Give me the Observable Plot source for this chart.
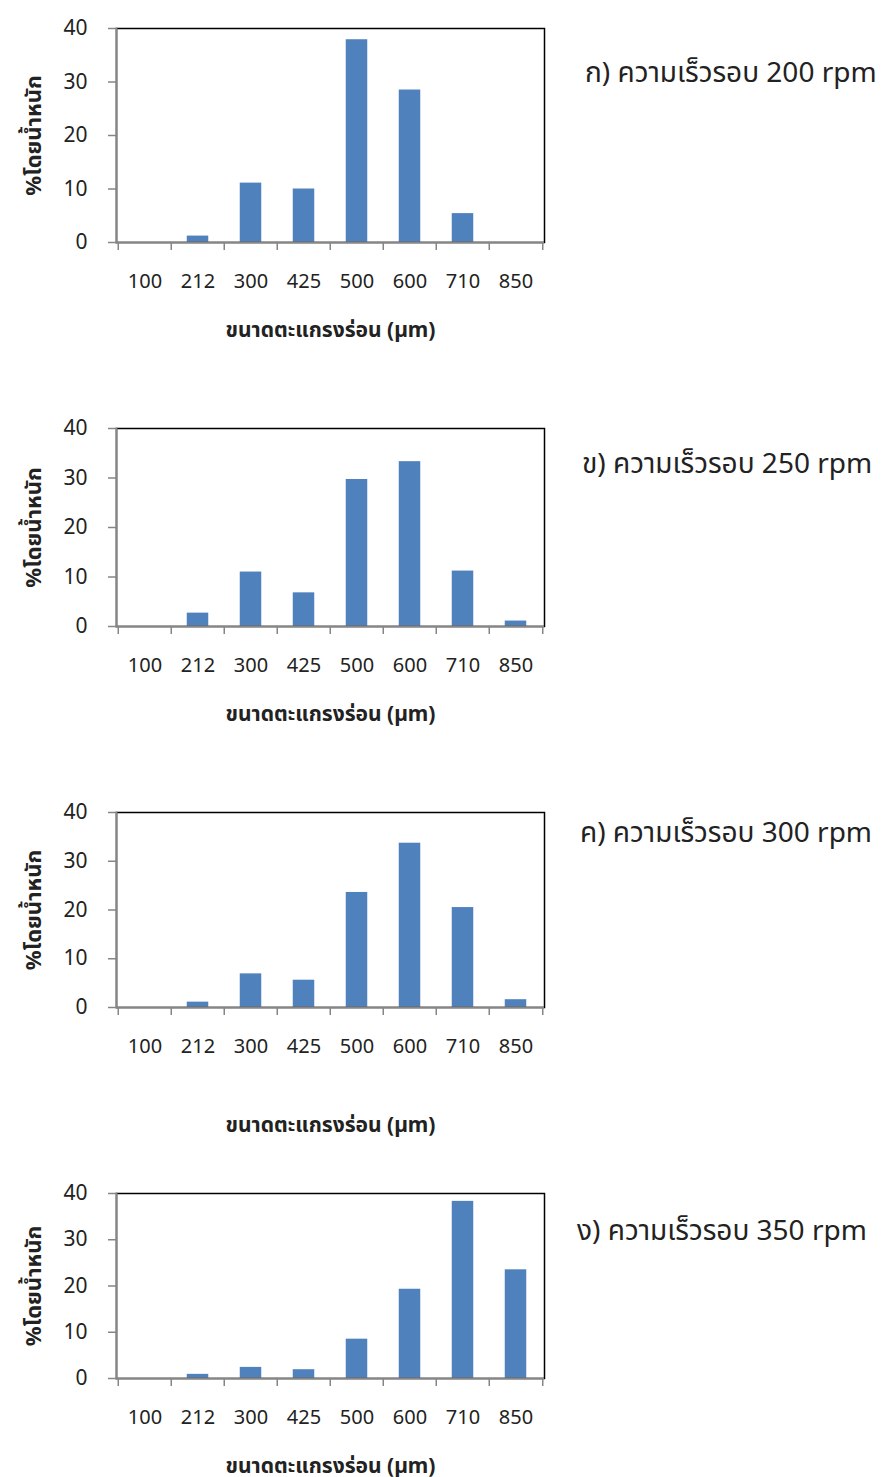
<!DOCTYPE html>
<html>
<head>
<meta charset="utf-8">
<script src="https://cdn.jsdelivr.net/npm/d3@7"></script>
<script src="https://cdn.jsdelivr.net/npm/@observablehq/plot@0.6"></script>
<style>
  html, body { margin: 0; padding: 0; background: #fff; }
  #root { position: relative; width: 881px; height: 1477px; font-family: "Noto Sans", "Noto Sans Thai", "DejaVu Sans", sans-serif; }
  .panel { position: absolute; left: 0; }
  .title { position: absolute; font-size: 28px; color: #222; white-space: nowrap; line-height: 1; }
</style>
</head>
<body>
<div id="root"></div>
<script>
const sizes = ["100", "212", "300", "425", "500", "600", "710", "850"];
const rpm200 = [0, 1.2, 11.1, 10.0, 37.9, 28.5, 5.4, 0];
const rpm250 = [0, 2.7, 11.0, 6.8, 29.7, 33.3, 11.2, 1.1];
const rpm300 = [0, 1.1, 6.9, 5.6, 23.6, 33.7, 20.5, 1.6];
const rpm350 = [0, 0.9, 2.4, 1.9, 8.5, 19.3, 38.3, 23.5];
const titles = ["ก) ความเร็วรอบ 200 rpm", "ข) ความเร็วรอบ 250 rpm", "ค) ความเร็วรอบ 300 rpm", "ง) ความเร็วรอบ 350 rpm"];
const yTicks = [0, 10, 20, 30, 40];
const xLabel = "ขนาดตะแกรงร่อน (µm)";
const yLabel = "%โดยน้ำหนัก";

// layout (pixels)
const panels = [
  {values: rpm200, frameTop: 28, frameH: 214, xLabOff: 94, titleX: 585, titleY: 72},
  {values: rpm250, frameTop: 428, frameH: 198, xLabOff: 94, titleX: 582, titleY: 463},
  {values: rpm300, frameTop: 812, frameH: 195, xLabOff: 124, titleX: 580, titleY: 832},
  {values: rpm350, frameTop: 1193, frameH: 185, xLabOff: 94, titleX: 577, titleY: 1230}
];

const root = document.getElementById("root");
const W = 560, mL = 116, mR = 16, mT = 14;
const step = (W - mL - mR) / sizes.length;
const gray = "#868686";
const blue = "#4F81BD";
const font = "\"Noto Sans\", \"Noto Sans Thai\", \"DejaVu Sans\", sans-serif";

panels.forEach((p, k) => {
  const data = sizes.map((s, i) => ({size: s, value: p.values[i]}));
  const mB = p.xLabOff + 16;
  const chart = Plot.plot({
    width: W,
    height: mT + p.frameH + mB,
    marginLeft: mL, marginRight: mR, marginTop: mT, marginBottom: mB,
    style: {fontFamily: font, fontSize: "20px", color: "#222", background: "white", overflow: "visible"},
    x: {type: "band", domain: sizes, padding: 0},
    y: {domain: [0, 40]},
    marks: [
      Plot.barY(data, {x: "size", y: "value", fill: blue, insetLeft: 15.75, insetRight: 15.75}),
      Plot.frame({stroke: "black", strokeWidth: 1.5}),
      Plot.frame({anchor: "left", stroke: gray, strokeWidth: 2}),
      Plot.ruleY([0], {stroke: gray, strokeWidth: 2}),
      Plot.ruleX(sizes, {x: d => d, y1: 0, y2: 0, insetBottom: -8, dx: -step / 2, stroke: gray, strokeWidth: 1.5}),
      Plot.ruleX(sizes.slice(-1), {x: d => d, y1: 0, y2: 0, insetBottom: -8, dx: step / 2, stroke: gray, strokeWidth: 1.5}),
      Plot.axisY({ticks: yTicks, tickSize: 8, tickPadding: 21, stroke: gray, strokeWidth: 1.5, label: null, fontSize: 21}),
      Plot.axisX({tickSize: 0, tickPadding: 31, label: null, fontSize: 20}),
      Plot.text([xLabel], {text: d => d, frameAnchor: "bottom", dy: p.xLabOff, fontWeight: "bold", fontSize: 21}),
      Plot.text([yLabel], {text: d => d, frameAnchor: "left", textAnchor: "middle", dx: -83, rotate: -90, fontWeight: "bold", fontSize: 22})
    ]
  });
  const div = document.createElement("div");
  div.className = "panel";
  div.style.top = (p.frameTop - mT) + "px";
  div.appendChild(chart);
  root.appendChild(div);

  const t = document.createElement("div");
  t.className = "title";
  t.textContent = titles[k];
  t.style.left = p.titleX + "px";
  t.style.top = (p.titleY - 15) + "px";
  root.appendChild(t);
});
</script>
</body>
</html>
